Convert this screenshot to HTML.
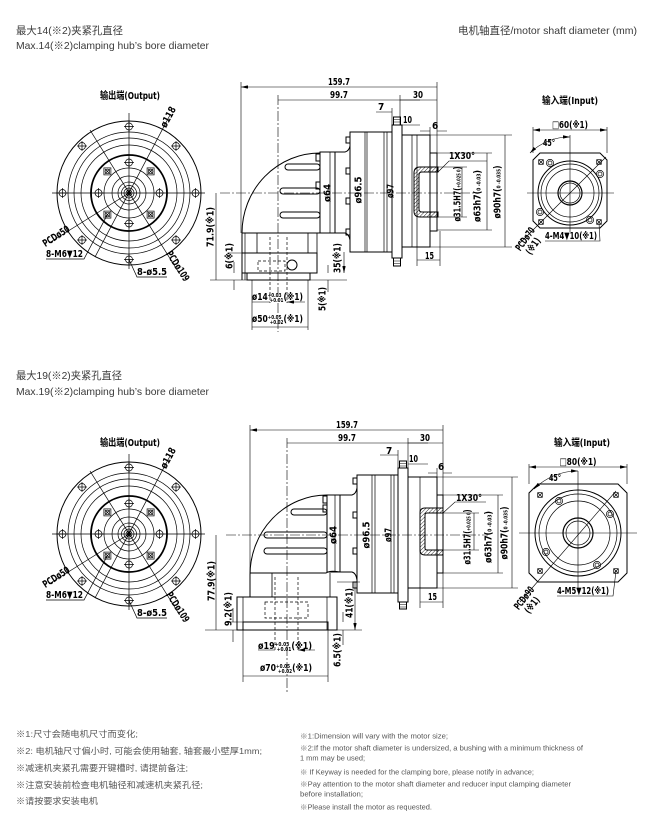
<!DOCTYPE html>
<html><head><meta charset="utf-8">
<style>
html,body{margin:0;padding:0;background:#fff;}
body{width:650px;height:822px;overflow:hidden;position:relative;}
svg{position:absolute;left:0;top:0;}
.h{font-family:"Liberation Sans","Noto Sans CJK SC",sans-serif;fill:#3a3a3a;font-size:10.5px;}
.f{font-family:"Liberation Sans","Noto Sans CJK SC",sans-serif;fill:#555;font-size:8.6px;}
.e{font-family:"Liberation Sans","Noto Sans CJK SC",sans-serif;fill:#555;font-size:7px;}
.c{font-family:"DejaVu Sans Condensed","DejaVu Sans","Noto Sans CJK SC",sans-serif;font-weight:bold;fill:#000;font-size:10px;}
.s{font-size:5.5px;}
</style></head><body>
<svg width="650" height="822" viewBox="0 0 650 822">
<defs>
<marker id="a" viewBox="0 0 7 3.4" refX="7" refY="1.7" markerWidth="7" markerHeight="3.4" markerUnits="userSpaceOnUse" orient="auto-start-reverse"><path d="M0,0L7,1.7L0,3.4z" fill="#000"/></marker>
<pattern id="hp" width="2.6" height="2.6" patternUnits="userSpaceOnUse" patternTransform="rotate(45)"><line x1="0" y1="0" x2="0" y2="2.6" stroke="#000" stroke-width="0.8"/></pattern>
<g id="h1" fill="none" stroke="#000" stroke-width="0.7"><circle r="3.5"/><path d="M-5,0H5M0,-5V5"/></g>
<g id="h2" fill="none" stroke="#000" stroke-width="0.7"><rect x="-3.5" y="-3.5" width="7" height="7"/><circle r="2.3"/><path d="M-2.5,-2.5L2.5,2.5M-2.5,2.5L2.5,-2.5"/></g>
<g id="h3" fill="none" stroke="#000" stroke-width="0.7"><circle r="3.6"/><circle r="2"/></g>
<g id="h4" fill="none" stroke="#000" stroke-width="0.7"><rect x="-2.3" y="-2.3" width="4.6" height="4.6"/><path d="M-2.3,-2.3L2.3,2.3M-2.3,2.3L2.3,-2.3"/></g>
<g id="cv">
 <g fill="none" stroke="#000" stroke-width="0.7">
  <circle r="72" stroke-width="1"/>
  <circle r="61"/><circle r="55"/><circle r="48"/>
  <circle r="38" stroke-width="1.8"/>
  <circle r="25"/><circle r="17"/><circle r="11"/><circle r="7.5"/><circle r="5"/><circle r="3"/>
  <path d="M-77,0H76M0,-80V76"/>
  <path d="M-34,64L41,-78"/>
  <path d="M-39,-63L50,80"/>
  <path d="M0,0L-80,50"/>
  <path d="M-21.6,21.6L-45,66H-83"/>
  <path d="M0,66.5L8,84H38"/>
 </g>
 <circle r="2" fill="#000"/>
 <use href="#h1" x="66.5" y="0"/><use href="#h1" x="47" y="47"/><use href="#h1" x="0" y="66.5"/><use href="#h1" x="-47" y="47"/>
 <use href="#h1" x="-66.5" y="0"/><use href="#h1" x="-47" y="-47"/><use href="#h1" x="0" y="-66.5"/><use href="#h1" x="47" y="-47"/>
 <use href="#h1" x="30.5" y="0"/><use href="#h1" x="0" y="30.5"/><use href="#h1" x="-30.5" y="0"/><use href="#h1" x="0" y="-30.5"/>
 <use href="#h2" x="21.6" y="21.6"/><use href="#h2" x="-21.6" y="21.6"/><use href="#h2" x="-21.6" y="-21.6"/><use href="#h2" x="21.6" y="-21.6"/>
</g>
</defs>

<!-- ===== headers ===== -->
<text class="h" x="16" y="34" textLength="107" lengthAdjust="spacingAndGlyphs">最大14(※2)夹紧孔直径</text>
<text class="h" x="16" y="49" textLength="193" lengthAdjust="spacingAndGlyphs">Max.14(※2)clamping hub’s bore diameter</text>
<text class="h" x="458" y="34" textLength="179" lengthAdjust="spacingAndGlyphs">电机轴直径/motor shaft diameter (mm)</text>
<text class="h" x="16" y="379" textLength="106" lengthAdjust="spacingAndGlyphs">最大19(※2)夹紧孔直径</text>
<text class="h" x="16" y="395" textLength="193" lengthAdjust="spacingAndGlyphs">Max.19(※2)clamping hub’s bore diameter</text>

<!-- ===== circle views ===== -->
<use href="#cv" x="129" y="193"/>
<use href="#cv" x="129" y="534"/>
<g class="c">
 <text x="130" y="99" text-anchor="middle" textLength="60" lengthAdjust="spacingAndGlyphs">输出端(Output)</text>
 <text transform="translate(168,117) rotate(-62)" text-anchor="middle" dy="3.5" textLength="22" lengthAdjust="spacingAndGlyphs">ø118</text>
 <text transform="translate(56,236) rotate(-33)" text-anchor="middle" dy="3.5" textLength="30" lengthAdjust="spacingAndGlyphs">PCDø50</text>
 <text x="46" y="257" textLength="37" lengthAdjust="spacingAndGlyphs">8-M6▼12</text>
 <text x="137" y="275" textLength="30" lengthAdjust="spacingAndGlyphs">8-ø5.5</text>
 <text transform="translate(178,266) rotate(57)" text-anchor="middle" dy="3.5" textLength="34" lengthAdjust="spacingAndGlyphs">PCDø109</text>

 <text x="130" y="446" text-anchor="middle" textLength="60" lengthAdjust="spacingAndGlyphs">输出端(Output)</text>
 <text transform="translate(168,458) rotate(-62)" text-anchor="middle" dy="3.5" textLength="22" lengthAdjust="spacingAndGlyphs">ø118</text>
 <text transform="translate(56,577) rotate(-33)" text-anchor="middle" dy="3.5" textLength="30" lengthAdjust="spacingAndGlyphs">PCDø50</text>
 <text x="46" y="598" textLength="37" lengthAdjust="spacingAndGlyphs">8-M6▼12</text>
 <text x="137" y="616" textLength="30" lengthAdjust="spacingAndGlyphs">8-ø5.5</text>
 <text transform="translate(178,607) rotate(57)" text-anchor="middle" dy="3.5" textLength="34" lengthAdjust="spacingAndGlyphs">PCDø109</text>
</g>

<!-- ===== TOP side view ===== -->
<g fill="none" stroke="#000" stroke-width="1">
 <path d="M242,280V233A78,80 0 0 1 320,153"/>
 <rect x="320" y="152" width="15" height="81"/>
 <path d="M330,152V233" stroke-width="0.7"/>
 <path d="M335,152H345Q349,151 350,146M335,233H345Q349,234 350,240"/>
 <rect x="350" y="132" width="42" height="120"/>
 <path d="M365,132V252M367,132V252M384,132V252M387,132V252" stroke-width="0.7"/>
 <rect x="346" y="137" width="4" height="6"/><rect x="346" y="168" width="4" height="6"/>
 <rect x="346" y="198" width="4" height="6"/><rect x="346" y="229" width="4" height="6"/>
 <rect x="392" y="125" width="10" height="133"/>
 <rect x="393.5" y="117" width="7" height="8"/><rect x="393.5" y="258" width="7" height="8"/>
 <path d="M393.5,119.5H400.5M393.5,122H400.5M393.5,261H400.5M393.5,263.5H400.5" stroke-width="0.6"/>
 <rect x="402" y="135" width="28" height="112"/>
 <path d="M412,135V247M417,135V247" stroke-width="0.7"/>
 <rect x="430" y="153" width="7" height="78"/>
 <rect x="285" y="164" width="35" height="6" rx="3"/>
 <rect x="280" y="188" width="40" height="6" rx="3"/>
 <rect x="280" y="212" width="40" height="6" rx="3"/>
 <rect x="316" y="154" width="4" height="7"/><rect x="316" y="182" width="4" height="7"/>
 <path d="M242,233H345"/>
 <path d="M257,233V253M308,233V253M317,233V253" stroke-width="0.8"/>
 <rect x="242" y="253" width="75" height="20"/>
 <path d="M245,233V280" stroke-width="0.7"/>
 <rect x="247" y="273" width="63" height="7"/>
 <circle cx="292" cy="265" r="5"/>
 <path d="M270,237V303M287,237V303" stroke-dasharray="3,2" stroke-width="0.7"/>
 <rect x="258" y="261" width="27" height="10" stroke-dasharray="3,2" stroke-width="0.7"/>
 <path d="M438,167H420Q414,167 414,173V211Q414,217 420,217H438V212H422Q419,212 419,209V175Q419,172 422,172H438Z" fill="url(#hp)"/>
</g>
<g fill="none" stroke="#000" stroke-width="0.6">
 <path d="M220,193H478M278,95V332" stroke-dasharray="10,2,2,2"/>
 <path d="M241,82V233M437,82V153M400,95V125M392,108V125M430,127V135"/>
 <path d="M241,87H437M278,100H437M417,260H440M505,135V247M487,153V230M462,167V217M216,193V280M252,327H308M344,252V273" marker-start="url(#a)" marker-end="url(#a)"/>
 <path d="M420,100H400M376,112H392M420,125H402M420,131H430M447,131H437M234,262V273M234,290V280M328,265V273M328,292V280M252,302H270M305,302H287" marker-end="url(#a)"/>
 <path d="M430,135H512M430,247H512M437,153H492M437,230H492M438,167H467M438,217H467"/>
 <path d="M417,247V266M440,231V266"/>
 <path d="M438,172L449,161H487"/>
 <path d="M210,280H347M228,253H242"/>
 <path d="M252,280V330M308,280V330"/>
</g>
<g class="c">
 <text x="339" y="85" text-anchor="middle" textLength="22" lengthAdjust="spacingAndGlyphs">159.7</text>
 <text x="339" y="98" text-anchor="middle" textLength="18" lengthAdjust="spacingAndGlyphs">99.7</text>
 <text x="418" y="98" text-anchor="middle" textLength="10" lengthAdjust="spacingAndGlyphs">30</text>
 <text x="378" y="110">7</text>
 <text x="403" y="123" textLength="9" lengthAdjust="spacingAndGlyphs">10</text>
 <text x="432" y="129">6</text>
 <text x="449" y="159" textLength="26" lengthAdjust="spacingAndGlyphs">1X30°</text>
 <text x="425" y="259" textLength="9" lengthAdjust="spacingAndGlyphs">15</text>
 <text transform="translate(327,193) rotate(-90)" text-anchor="middle" dy="3.5" textLength="18" lengthAdjust="spacingAndGlyphs">ø64</text>
 <text transform="translate(358,190) rotate(-90)" text-anchor="middle" dy="3.5" textLength="27" lengthAdjust="spacingAndGlyphs">ø96.5</text>
 <text transform="translate(390,191) rotate(-90)" text-anchor="middle" dy="3.5" textLength="14" lengthAdjust="spacingAndGlyphs">ø97</text>
 <text transform="translate(457,194) rotate(-90)" text-anchor="middle" dy="3.5" textLength="55" lengthAdjust="spacingAndGlyphs">ø31.5H7(<tspan class="s">+0.025 0</tspan>)</text>
 <text transform="translate(477,196) rotate(-90)" text-anchor="middle" dy="3.5" textLength="52" lengthAdjust="spacingAndGlyphs">ø63h7(<tspan class="s">0 -0.03</tspan>)</text>
 <text transform="translate(497,192) rotate(-90)" text-anchor="middle" dy="3.5" textLength="53" lengthAdjust="spacingAndGlyphs">ø90h7(<tspan class="s">0 -0.035</tspan>)</text>
 <text transform="translate(210,227) rotate(-90)" text-anchor="middle" dy="3.5" textLength="40" lengthAdjust="spacingAndGlyphs">71.9(※1)</text>
 <text transform="translate(229,256) rotate(-90)" text-anchor="middle" dy="3.5" textLength="26" lengthAdjust="spacingAndGlyphs">6(※1)</text>
 <text transform="translate(337,258) rotate(-90)" text-anchor="middle" dy="3.5" textLength="30" lengthAdjust="spacingAndGlyphs">35(※1)</text>
 <text transform="translate(322,299) rotate(-90)" text-anchor="middle" dy="3.5" textLength="24" lengthAdjust="spacingAndGlyphs">5(※1)</text>
 <text x="252" y="300" textLength="51" lengthAdjust="spacingAndGlyphs">ø14<tspan class="s" dy="-3">+0.03</tspan><tspan class="s" dx="-14" dy="5">+0.01</tspan><tspan dy="-2">(※1)</tspan></text>
 <text x="252" y="322" textLength="51" lengthAdjust="spacingAndGlyphs">ø50<tspan class="s" dy="-3">+0.05</tspan><tspan class="s" dx="-14" dy="5">+0.02</tspan><tspan dy="-2">(※1)</tspan></text>
</g>

<!-- ===== BOTTOM side view ===== -->
<g fill="none" stroke="#000" stroke-width="1">
 <path d="M250,597V575A77,80 0 0 1 327,495"/>
 <rect x="327" y="495" width="13" height="77"/>
 <path d="M335,495V572" stroke-width="0.7"/>
 <path d="M340,495H352Q356,494 357,488"/>
 <path d="M320,573H326Q330,570 340,572H352Q356,573 357,580"/>
 <rect x="357" y="475" width="41" height="118"/>
 <path d="M372,475V593M375,475V593M391,475V593M394,475V593" stroke-width="0.7"/>
 <rect x="353" y="478" width="4" height="6"/><rect x="353" y="512" width="4" height="6"/>
 <rect x="353" y="548" width="4" height="6"/><rect x="353" y="582" width="4" height="6"/>
 <rect x="398" y="468" width="10" height="134"/>
 <rect x="399.5" y="461" width="7" height="7"/><rect x="399.5" y="602" width="7" height="7"/>
 <path d="M399.5,463.5H406.5M399.5,466H406.5M399.5,604.5H406.5M399.5,607H406.5" stroke-width="0.6"/>
 <rect x="408" y="477" width="29" height="111"/>
 <path d="M420,477V588" stroke-width="0.7"/>
 <rect x="437" y="495" width="6" height="78"/>
 <rect x="291" y="509" width="36" height="6" rx="3"/>
 <rect x="264" y="532" width="63" height="6" rx="3"/>
 <rect x="264" y="548" width="63" height="6" rx="3"/>
 <rect x="323" y="496" width="4" height="7"/><rect x="323" y="505" width="4" height="7"/>
 <path d="M250,573H320"/>
 <path d="M272,573V597M330,573V597" stroke-width="0.8"/>
 <rect x="237" y="597" width="100" height="33"/>
 <path d="M243,597V630M327,597V630" stroke-width="0.7"/>
 <rect x="243" y="622" width="85" height="8"/>
 <path d="M275,577V650M298,577V650" stroke-dasharray="3,2" stroke-width="0.7"/>
 <rect x="265" y="602" width="43" height="16" stroke-dasharray="3,2" stroke-width="0.7"/>
 <path d="M443,508H425Q420,508 420,513V550Q420,555 425,555H443V550H427Q425,550 425,548V515Q425,513 427,513H443Z" fill="url(#hp)"/>
</g>
<g fill="none" stroke="#000" stroke-width="0.6">
 <path d="M226,535H488M287,438V692" stroke-dasharray="10,2,2,2"/>
 <path d="M250,425V575M443,425V495M408,438V468M398,450V468M437,468V477"/>
 <path d="M250,430H443M287,443H443M420,602H443M512,477V588M498,495V573M474,513V550M216,535V630M243,676H328M355,582V630" marker-start="url(#a)" marker-end="url(#a)"/>
 <path d="M428,443H408M380,455H398M428,464H408M428,473H437M452,473H443M233,608V622M233,642V630M343,612V622M343,645V630M258,650H275M315,650H298" marker-end="url(#a)"/>
 <path d="M437,477H518M437,588H518M443,495H503M443,573H503M443,513H479M443,550H479"/>
 <path d="M420,588V608M443,573V608"/>
 <path d="M443,513L455,502H486"/>
 <path d="M205,630H362M225,622H245M337,582H360"/>
 <path d="M243,630V682M328,630V682"/>
</g>
<g class="c">
 <text x="347" y="428" text-anchor="middle" textLength="22" lengthAdjust="spacingAndGlyphs">159.7</text>
 <text x="347" y="441" text-anchor="middle" textLength="18" lengthAdjust="spacingAndGlyphs">99.7</text>
 <text x="425" y="441" text-anchor="middle" textLength="10" lengthAdjust="spacingAndGlyphs">30</text>
 <text x="386" y="454">7</text>
 <text x="409" y="462" textLength="9" lengthAdjust="spacingAndGlyphs">10</text>
 <text x="438" y="470">6</text>
 <text x="456" y="501" textLength="26" lengthAdjust="spacingAndGlyphs">1X30°</text>
 <text x="428" y="600" textLength="9" lengthAdjust="spacingAndGlyphs">15</text>
 <text transform="translate(333,535) rotate(-90)" text-anchor="middle" dy="3.5" textLength="18" lengthAdjust="spacingAndGlyphs">ø64</text>
 <text transform="translate(366,535) rotate(-90)" text-anchor="middle" dy="3.5" textLength="27" lengthAdjust="spacingAndGlyphs">ø96.5</text>
 <text transform="translate(388,535) rotate(-90)" text-anchor="middle" dy="3.5" textLength="14" lengthAdjust="spacingAndGlyphs">ø97</text>
 <text transform="translate(467,537) rotate(-90)" text-anchor="middle" dy="3.5" textLength="55" lengthAdjust="spacingAndGlyphs">ø31.5H7(<tspan class="s">+0.025 0</tspan>)</text>
 <text transform="translate(488,537) rotate(-90)" text-anchor="middle" dy="3.5" textLength="52" lengthAdjust="spacingAndGlyphs">ø63h7(<tspan class="s">0 -0.03</tspan>)</text>
 <text transform="translate(504,533) rotate(-90)" text-anchor="middle" dy="3.5" textLength="53" lengthAdjust="spacingAndGlyphs">ø90h7(<tspan class="s">0 -0.035</tspan>)</text>
 <text transform="translate(211,581) rotate(-90)" text-anchor="middle" dy="3.5" textLength="40" lengthAdjust="spacingAndGlyphs">77.9(※1)</text>
 <text transform="translate(228,609) rotate(-90)" text-anchor="middle" dy="3.5" textLength="34" lengthAdjust="spacingAndGlyphs">9.2(※1)</text>
 <text transform="translate(349,603) rotate(-90)" text-anchor="middle" dy="3.5" textLength="30" lengthAdjust="spacingAndGlyphs">41(※1)</text>
 <text transform="translate(337,650) rotate(-90)" text-anchor="middle" dy="3.5" textLength="34" lengthAdjust="spacingAndGlyphs">6.5(※1)</text>
 <text x="258" y="649" textLength="54" lengthAdjust="spacingAndGlyphs">ø19<tspan class="s" dy="-3">+0.03</tspan><tspan class="s" dx="-14" dy="5">+0.01</tspan><tspan dy="-2">(※1)</tspan></text>
 <text x="260" y="671" textLength="52" lengthAdjust="spacingAndGlyphs">ø70<tspan class="s" dy="-3">+0.05</tspan><tspan class="s" dx="-14" dy="5">+0.02</tspan><tspan dy="-2">(※1)</tspan></text>
</g>

<!-- ===== TOP input view ===== -->
<g fill="none" stroke="#000" stroke-width="1">
 <polygon points="540,153 600,153 607,160 607,221 600,228 540,228 533,221 533,160"/>
 <circle cx="570" cy="193" r="32"/><circle cx="570" cy="193" r="29" stroke-width="0.7"/>
 <circle cx="570" cy="193" r="24" stroke-width="0.7"/>
 <circle cx="570" cy="193" r="12" stroke-width="1.2"/><circle cx="570" cy="193" r="10" stroke-width="0.7"/>
</g>
<use href="#h4" x="541" y="162"/><use href="#h4" x="599" y="162"/><use href="#h4" x="541" y="222"/><use href="#h4" x="599" y="222"/>
<use href="#h3" x="550" y="163"/><use href="#h3" x="600" y="174"/><use href="#h3" x="590" y="220"/><use href="#h3" x="540" y="212"/>
<g fill="none" stroke="#000" stroke-width="0.6">
 <path d="M527,193H614M570,135V232"/>
 <path d="M519,244L606,157"/>
 <path d="M533,127V153M607,127V153"/>
 <path d="M533,130H607" marker-start="url(#a)" marker-end="url(#a)"/>
 <path d="M570,137A56,56 0 0 0 530,153" marker-start="url(#a)" marker-end="url(#a)"/>
 <path d="M545,241H600L599,223"/>
</g>
<g class="c">
 <text x="570" y="104" text-anchor="middle" textLength="56" lengthAdjust="spacingAndGlyphs">输入端(Input)</text>
 <text x="570" y="128" text-anchor="middle" textLength="36" lengthAdjust="spacingAndGlyphs">□60(※1)</text>
 <text x="543" y="146" textLength="12" lengthAdjust="spacingAndGlyphs">45°</text>
 <text x="545" y="239" textLength="52" lengthAdjust="spacingAndGlyphs">4-M4▼10(※1)</text>
 <text transform="translate(525,239) rotate(-55)" text-anchor="middle" dy="3.5" textLength="26" lengthAdjust="spacingAndGlyphs">PCDø70</text>
 <text transform="translate(533,246) rotate(-55)" text-anchor="middle" dy="3.5" textLength="18" lengthAdjust="spacingAndGlyphs">(※1)</text>
</g>

<!-- ===== BOTTOM input view ===== -->
<g fill="none" stroke="#000" stroke-width="1">
 <polygon points="538,484 618,484 627,493 627,573 618,582 538,582 529,573 529,493"/>
 <circle cx="578" cy="533" r="43"/><circle cx="578" cy="533" r="39" stroke-width="0.7"/>
 <circle cx="578" cy="533" r="32" stroke-width="0.7"/>
 <circle cx="578" cy="533" r="15" stroke-width="1.2"/><circle cx="578" cy="533" r="12" stroke-width="0.7"/>
</g>
<use href="#h4" x="540" y="495"/><use href="#h4" x="616" y="495"/><use href="#h4" x="540" y="571"/><use href="#h4" x="616" y="571"/>
<use href="#h3" x="559" y="501"/><use href="#h3" x="610" y="514"/><use href="#h3" x="597" y="565"/><use href="#h3" x="546" y="552"/>
<g fill="none" stroke="#000" stroke-width="0.6">
 <path d="M519,533H637M578,471V592"/>
 <path d="M520,602L616,491"/>
 <path d="M529,464V484M627,464V484"/>
 <path d="M529,467H627" marker-start="url(#a)" marker-end="url(#a)"/>
 <path d="M578,471A62,62 0 0 0 534,489" marker-start="url(#a)" marker-end="url(#a)"/>
 <path d="M557,596H613L616,571"/>
</g>
<g class="c">
 <text x="582" y="446" text-anchor="middle" textLength="56" lengthAdjust="spacingAndGlyphs">输入端(Input)</text>
 <text x="578" y="465" text-anchor="middle" textLength="37" lengthAdjust="spacingAndGlyphs">□80(※1)</text>
 <text x="549" y="481" textLength="12" lengthAdjust="spacingAndGlyphs">45°</text>
 <text x="557" y="594" textLength="52" lengthAdjust="spacingAndGlyphs">4-M5▼12(※1)</text>
 <text transform="translate(524,598) rotate(-52)" text-anchor="middle" dy="3.5" textLength="26" lengthAdjust="spacingAndGlyphs">PCDø90</text>
 <text transform="translate(532,605) rotate(-52)" text-anchor="middle" dy="3.5" textLength="18" lengthAdjust="spacingAndGlyphs">(※1)</text>
</g>

<!-- ===== footer ===== -->
<text class="f" x="16" y="737" textLength="122" lengthAdjust="spacingAndGlyphs">※1:尺寸会随电机尺寸而变化;</text>
<text class="f" x="16" y="754" textLength="246" lengthAdjust="spacingAndGlyphs">※2: 电机轴尺寸偏小时, 可能会使用轴套, 轴套最小壁厚1mm;</text>
<text class="f" x="16" y="771" textLength="172" lengthAdjust="spacingAndGlyphs">※减速机夹紧孔需要开键槽时, 请提前备注;</text>
<text class="f" x="16" y="788" textLength="187" lengthAdjust="spacingAndGlyphs">※注意安装前检查电机轴径和减速机夹紧孔径;</text>
<text class="f" x="16" y="804" textLength="82" lengthAdjust="spacingAndGlyphs">※请按要求安装电机</text>

<text class="e" x="300" y="738.5" textLength="148" lengthAdjust="spacingAndGlyphs">※1:Dimension will vary with the motor size;</text>
<text class="e" x="300" y="750.5" textLength="283" lengthAdjust="spacingAndGlyphs">※2:If the motor shaft diameter is undersized, a bushing with a minimum thickness of</text>
<text class="e" x="300" y="760.5" textLength="65" lengthAdjust="spacingAndGlyphs">1 mm may be used;</text>
<text class="e" x="300" y="774.5" textLength="234" lengthAdjust="spacingAndGlyphs">※ If Keyway is needed for the clamping bore, please notify in advance;</text>
<text class="e" x="300" y="786.5" textLength="271" lengthAdjust="spacingAndGlyphs">※Pay attention to the motor shaft diameter and reducer input clamping diameter</text>
<text class="e" x="300" y="796.5" textLength="63" lengthAdjust="spacingAndGlyphs">before installation;</text>
<text class="e" x="300" y="809.5" textLength="132" lengthAdjust="spacingAndGlyphs">※Please install the motor as requested.</text>
</svg>
</body></html>
